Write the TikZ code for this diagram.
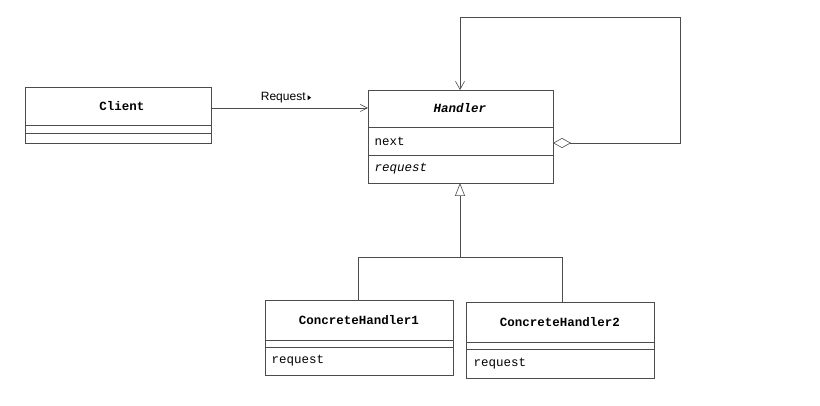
\documentclass[tikz,border=0pt]{standalone}
\usepackage{fontspec}
\setmonofont{Liberation Mono}
\setsansfont{Liberation Sans}
\usetikzlibrary{arrows.meta}
\begin{document}
\begin{tikzpicture}[x=1pt,y=-1pt,line width=0.6pt,
  ln/.style={draw=black!70},
  cls/.style={font=\ttfamily\fontsize{12.5}{14}\selectfont},
  attr/.style={font=\ttfamily\fontsize{12.5}{14}\selectfont,anchor=west}]
\useasboundingbox[fill=white] (0,0) rectangle (820,406);
% Client
\draw[ln] (25,87) rectangle (211,143);
\draw[ln] (25,125) -- (211,125) (25,133) -- (211,133);
\node[cls] (client) at (122,106) {\bfseries Client};
\coordinate (cR) at (211,108);
% Handler
\draw[ln] (368,90) rectangle (553,183);
\draw[ln] (368,127) -- (553,127) (368,155) -- (553,155);
\node[cls] (handler) at (460,108) {\bfseries\itshape Handler};
\node[attr] (next) at (371,141) {next};
\node[attr] (hreq) at (371,169) {\itshape request};
\coordinate (hL) at (368,108);
\coordinate (hT) at (460,90);
\coordinate (hB) at (460,183);
\coordinate (hR) at (553,143);
% Request
\draw[ln,-{Straight Barb[length=7pt,width=7pt]}] (cR) -- (hL);
\node[font=\sffamily\fontsize{12}{14}\selectfont] (reqlab) at (286,98) {Request\,\tikz[baseline=-0.5ex]\fill[black] (0,-2.5pt)--(3.5pt,0)--(0,2.5pt)--cycle;};
% loop
\draw[ln,{Diamond[open,fill=white,length=18pt,width=10pt]}-{Straight Barb[length=8pt,width=9pt]}] (hR) -- (680,143) -- (680,17) -- (460,17) -- (hT);
% Concrete
\draw[ln] (265,300) rectangle (453,375);
\draw[ln] (265,340) -- (453,340) (265,347) -- (453,347);
\node[cls] (c1) at (359,320) {\bfseries ConcreteHandler1};
\node[attr] (c1r) at (268,361) {request};
\draw[ln] (466,302) rectangle (654,378);
\draw[ln] (466,342) -- (654,342) (466,349) -- (654,349);
\node[cls] (c2) at (560,322) {\bfseries ConcreteHandler2};
\node[attr] (c2r) at (470,364) {request};
\coordinate (j1) at (358,300);
\coordinate (j2) at (562,302);
% inheritance
\draw[ln,{Triangle[open,fill=white,length=13pt,width=10pt]}-] (hB) -- (460,257);
\draw[ln] (j1) -- (358,257) -- (562,257) -- (j2);
\end{tikzpicture}
\end{document}
